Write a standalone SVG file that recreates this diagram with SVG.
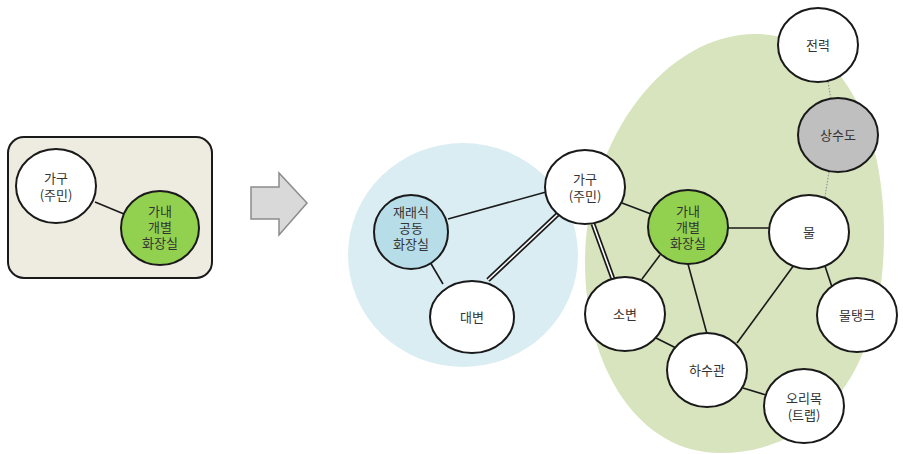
<svg xmlns="http://www.w3.org/2000/svg" width="903" height="454" viewBox="0 0 903 454">
  <defs>
    <style>
      .node { stroke: #1a1a1a; stroke-width: 2; fill: #ffffff; }
      .green { fill: #92d050; }
      .blue { fill: #b7dde8; }
      .gray { fill: #bfbfbf; }
      .edge { stroke: #1a1a1a; stroke-width: 1.6; fill: none; }
      .dbl-outer { stroke: #1a1a1a; stroke-width: 5; fill: none; }
      .dbl-inner { stroke: #ffffff; stroke-width: 1.6; fill: none; }
      .dot { stroke: #999999; stroke-width: 1.2; stroke-dasharray: 1.5 1.5; fill: none; }
      text { font-family: "Noto Sans CJK KR", "Noto Sans", sans-serif; font-size: 13px; fill: #333333; text-anchor: middle; }
    </style>
  </defs>

  <!-- background areas -->
  <g id="areas">
    <rect x="8" y="137" width="204" height="141" rx="16" ry="16" fill="#eeebe0" stroke="#1a1a1a" stroke-width="2"/>
    <ellipse cx="463" cy="255" rx="115" ry="112" fill="#daedf3"/>
    <path d="M 755 34 C 845 34 884 130 884 235 C 884 375 815 453 720 453 C 640 453 585 370 585 262 C 585 140 665 34 755 34 Z" fill="#d7e4bd"/>
  </g>

  <!-- transition arrow -->
  <g id="arrow">
    <polygon points="251,187 279,187 279,173 307,203 279,235 279,219 251,219" fill="#d9d9d9" stroke="#8c8c8c" stroke-width="1.5"/>
  </g>

  <!-- connectors -->
  <g id="connectors">
    <line class="edge" x1="95" y1="202" x2="124" y2="214"/>
    <line class="edge" x1="448" y1="219" x2="546" y2="192"/>
    <line class="edge" x1="430" y1="262" x2="443" y2="284"/>
    <line class="dbl-outer" x1="558" y1="214" x2="488" y2="280"/>
    <line class="dbl-inner" x1="558" y1="214" x2="488" y2="280"/>
    <line class="dbl-outer" x1="593" y1="224" x2="613" y2="279"/>
    <line class="dbl-inner" x1="593" y1="224" x2="613" y2="279"/>
    <line class="edge" x1="622" y1="203" x2="651" y2="214"/>
    <line class="edge" x1="660" y1="255" x2="642" y2="279"/>
    <line class="edge" x1="688" y1="264" x2="707" y2="334"/>
    <line class="edge" x1="727" y1="228" x2="770" y2="228"/>
    <line class="edge" x1="656" y1="338" x2="678" y2="349"/>
    <line class="edge" x1="794" y1="265" x2="737" y2="343"/>
    <line class="edge" x1="825" y1="266" x2="832" y2="287"/>
    <line class="edge" x1="743" y1="388" x2="766" y2="395"/>
    <line class="dot" x1="828" y1="82" x2="831" y2="99"/>
    <line class="dot" x1="829" y1="172" x2="825" y2="197"/>
  </g>

  <!-- nodes -->
  <g id="household-left">
    <ellipse class="node" cx="56" cy="186" rx="40" ry="37"/>
    <text x="56" y="183">가구<tspan x="56" dy="17">(주민)</tspan></text>
  </g>
  <g id="toilet-left">
    <ellipse class="node green" cx="160" cy="228" rx="39" ry="37"/>
    <text x="160" y="216">가내<tspan x="160" dy="16">개별</tspan><tspan x="160" dy="16">화장실</tspan></text>
  </g>

  <g id="public-toilet">
    <ellipse class="node blue" cx="411" cy="232" rx="37" ry="37"/>
    <text x="411" y="217">재래식<tspan x="411" dy="16">공동</tspan><tspan x="411" dy="16">화장실</tspan></text>
  </g>
  <g id="feces">
    <ellipse class="node" cx="472" cy="317" rx="42" ry="36"/>
    <text x="472" y="322">대변</text>
  </g>
  <g id="household">
    <ellipse class="node" cx="585" cy="187" rx="40" ry="37"/>
    <text x="585" y="184">가구<tspan x="585" dy="17">(주민)</tspan></text>
  </g>
  <g id="toilet">
    <ellipse class="node green" cx="688" cy="227" rx="40" ry="37"/>
    <text x="688" y="216">가내<tspan x="688" dy="16">개별</tspan><tspan x="688" dy="16">화장실</tspan></text>
  </g>
  <g id="power">
    <ellipse class="node" cx="818" cy="45" rx="40" ry="37"/>
    <text x="818" y="50">전력</text>
  </g>
  <g id="water-supply">
    <ellipse class="node gray" cx="838" cy="135" rx="40" ry="37"/>
    <text x="838" y="140">상수도</text>
  </g>
  <g id="water">
    <ellipse class="node" cx="809" cy="232" rx="40" ry="37"/>
    <text x="809" y="237">물</text>
  </g>
  <g id="urine">
    <ellipse class="node" cx="625" cy="314" rx="40" ry="37"/>
    <text x="625" y="319">소변</text>
  </g>
  <g id="water-tank">
    <ellipse class="node" cx="857" cy="315" rx="40" ry="37"/>
    <text x="857" y="320">물탱크</text>
  </g>
  <g id="sewer">
    <ellipse class="node" cx="707" cy="370" rx="40" ry="37"/>
    <text x="707" y="375">하수관</text>
  </g>
  <g id="trap">
    <ellipse class="node" cx="804" cy="406" rx="40" ry="37"/>
    <text x="804" y="403">오리목<tspan x="804" dy="17">(트랩)</tspan></text>
  </g>
</svg>
